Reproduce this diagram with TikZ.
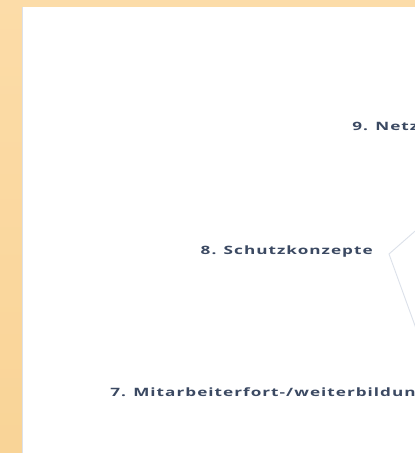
\documentclass[tikz,border=0pt]{standalone}
\usepackage{fontspec}
\newfontfamily\axisfont[LetterSpace=6]{Open Sans}
\usetikzlibrary{
  positioning,
}
\definecolor{frameorange}{HTML}{FCDCA8}
\definecolor{frameorangedark}{HTML}{F9D497}
\definecolor{labelblue}{HTML}{3B4962}
\definecolor{gridgray}{HTML}{DCE1EA}
\tikzset{
  axislabel/.style={
    font=\axisfont\bfseries\fontsize{11.5}{14}\selectfont,
    text=labelblue,
    inner sep=0pt,
    xscale=1.49,
  },
  gridline/.style={
    draw=gridgray,
    line width=0.9pt,
  },
}

\begin{document}
\begin{tikzpicture}[x=1pt,y=-1pt]

  \useasboundingbox (0,0) rectangle (415,453);
  \clip (0,0) rectangle (415,453);

  % frame
  \fill[top color=frameorange, bottom color=frameorangedark] (0,0) rectangle (415,453);
  \fill[white] (22,7) rectangle (415,453);
  \draw[gridgray, line width=0.8pt] (22.4,7) -- (22.4,453);

  % grid
  \coordinate (top) at (430,218);
  \coordinate (vertex) at (389,254);
  \coordinate (bottom) at (422,345);
  \draw[gridline] (top) -- (vertex) -- (bottom);

  % labels
  \node[axislabel, anchor=west] (netz) at (352,126) {9. Netz};
  \node[axislabel, anchor=east] (schutz) at (373,252) {8. Schutzkonzepte};
  \node[axislabel, anchor=west] (mitarbeiter) at (110,393) {7. Mitarbeiterfort-/weiterbildung};

\end{tikzpicture}
\end{document}
